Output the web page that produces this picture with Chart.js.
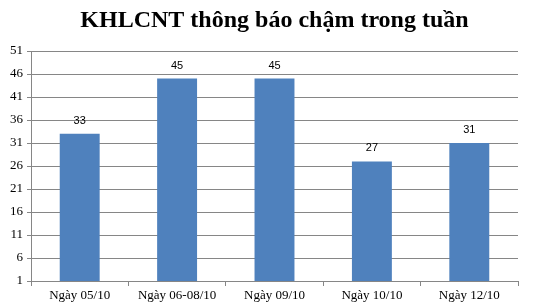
<!DOCTYPE html>
<html>
<head>
<meta charset="utf-8">
<script src="https://cdn.jsdelivr.net/npm/chart.js@4"></script>
<style>
  html, body { margin: 0; padding: 0; background: #fff; }
  #wrap { width: 536px; height: 307px; }
</style>
</head>
<body>
<div id="wrap"><canvas id="myChart" width="536" height="307"></canvas></div>
<script>
// dữ liệu
var categories = ["Ngày 05/10", "Ngày 06-08/10", "Ngày 09/10", "Ngày 10/10", "Ngày 12/10"];
var values = [33, 45, 45, 27, 31];
var yMin = 1, yMax = 51, yStep = 5;
var chartTitle = "KHLCNT thông báo chậm trong tuần";

// tiêu đề, căn giữa theo vùng vẽ
var titlePlugin = {
    id: "titlePlugin",
    afterDraw: function (chart) {
        var ctx = chart.ctx;
        var area = chart.chartArea;
        ctx.save();
        ctx.font = "bold 24px 'Liberation Serif', 'Times New Roman', serif";
        ctx.fillStyle = "#000";
        ctx.textAlign = "center";
        ctx.textBaseline = "middle";
        ctx.fillText(chartTitle, (area.left + area.right) / 2, 21);
        ctx.restore();
    }
};

// nhãn giá trị trên cột
var valueLabels = {
    id: "valueLabels",
    afterDatasetsDraw: function (chart) {
        var ctx = chart.ctx;
        var meta = chart.getDatasetMeta(0);
        ctx.save();
        ctx.font = "11px 'Liberation Sans', Arial, sans-serif";
        ctx.fillStyle = "#000";
        ctx.textAlign = "center";
        ctx.textBaseline = "middle";
        meta.data.forEach(function (bar, i) {
            ctx.fillText(values[i], bar.x, bar.y - 13);
        });
        ctx.restore();
    }
};

var ctx = document.getElementById("myChart").getContext("2d");
var myChart = new Chart(ctx, {
    type: "bar",
    data: {
        labels: categories,
        datasets: [{
            data: values,
            backgroundColor: "#4F81BD",
            borderWidth: 0,
            categoryPercentage: 1,
            barPercentage: 0.41
        }]
    },
    options: {
        responsive: false,
        animation: false,
        layout: { padding: { left: 0, right: 18, top: 51, bottom: 0 } },
        plugins: {
            legend: { display: false },
            tooltip: { enabled: false },
            title: { display: false }
        },
        scales: {
            y: {
                min: yMin,
                max: yMax,
                ticks: {
                    stepSize: yStep,
                    color: "#000",
                    padding: 4,
                    font: { family: "'Liberation Serif', 'Times New Roman', serif", size: 13 }
                },
                grid: { color: "#868686", tickLength: 4, tickColor: "#868686" },
                border: { color: "#868686" },
                afterFit: function (scale) { scale.width = 31; }
            },
            x: {
                offset: true,
                ticks: {
                    color: "#000",
                    padding: 2,
                    font: { family: "'Liberation Serif', 'Times New Roman', serif", size: 13 }
                },
                grid: { offset: true, drawOnChartArea: false, tickLength: 5, color: "#868686" },
                border: { color: "#868686" },
                afterFit: function (scale) { scale.height = 26; }
            }
        }
    },
    plugins: [titlePlugin, valueLabels]
});
</script>
</body>
</html>
